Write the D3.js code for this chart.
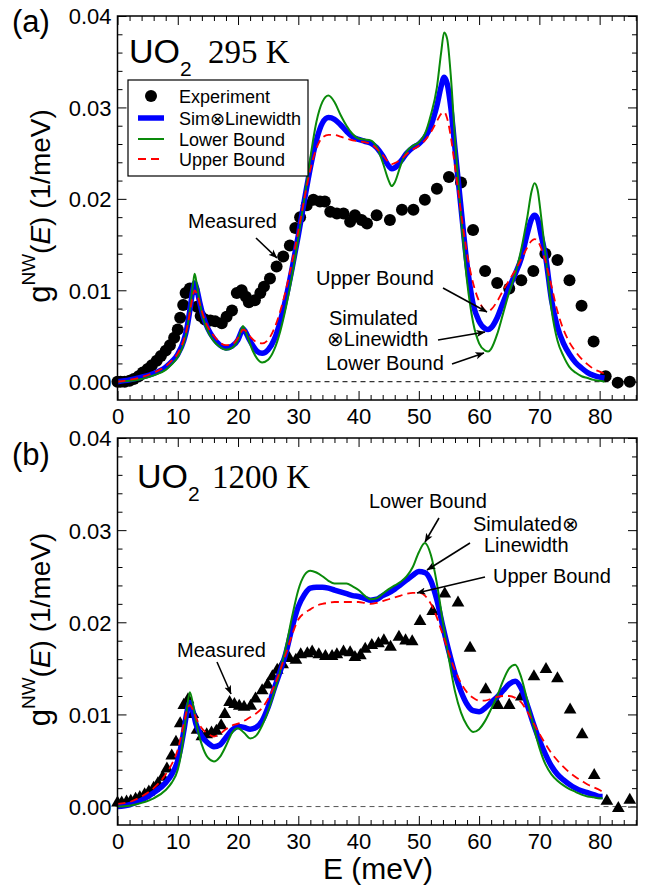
<!DOCTYPE html>
<html><head><meta charset="utf-8">
<script src="https://cdn.jsdelivr.net/npm/d3@7"></script>
<style>
html,body{margin:0;padding:0;background:#fff;}
svg{display:block;}
text{font-family:"Liberation Sans",Arial,Helvetica,"DejaVu Sans",sans-serif;fill:#000;}
</style></head>
<body>
<svg id="chart" width="657" height="888"></svg>
<script>
// ---------------- DATA ----------------
const energyTicks = [0,10,20,30,40,50,60,70,80];
const gTicks = [0.00,0.01,0.02,0.03,0.04];
const legendLabels = ["Experiment","Sim\u2297Linewidth","Lower Bound","Upper Bound"];

// (a) UO2 295 K — measured points
const topExpE = [0,0.5,1.2,2,2.7,3.5,4.2,5,5.7,6.5,7.2,8,8.7,9.4,10,10.4,10.9,11.3,12,12.6,13.2,13.8,14.5,15.4,16.2,17.3,18.1,19.0,19.8,20.6,21.3,21.8,22.8,23.7,24.3,25.3,26.4,27.5,28.6,29.5,30.3,31.4,32.5,33.6,34.4,35.3,36.4,37.5,38.6,39.4,40.5,41.4,43.0,45.2,47.2,49.1,51,53,55,57,59,61,63,65,67,69,71,73,75,77,79,81,83,85];
const topExpG = [0.0000,0.0000,0.0000,0.0001,0.0003,0.0006,0.0010,0.0014,0.0018,0.0023,0.0028,0.0034,0.0040,0.0048,0.0057,0.0070,0.0084,0.0097,0.0102,0.0101,0.0082,0.0072,0.0068,0.0067,0.0066,0.0064,0.0071,0.0078,0.0097,0.0100,0.0093,0.0087,0.0089,0.0097,0.0104,0.0113,0.0126,0.0137,0.0149,0.0168,0.0180,0.0193,0.0199,0.0197,0.0197,0.0186,0.0184,0.0184,0.0175,0.0182,0.0177,0.0173,0.0182,0.0177,0.0188,0.0188,0.0199,0.0211,0.0224,0.0218,0.0166,0.0121,0.0108,0.0102,0.0111,0.0121,0.0140,0.0133,0.0111,0.0083,0.0044,0.0006,-0.0001,0.0000];

// (a) simulated curves
const topCurveE = [0,2,4,6,8,9,10,11,11.5,12,12.5,12.8,13.2,13.7,14.2,15,16,17,18,19,20,20.5,20.8,21.2,21.8,22.5,23.2,24,25,26,27,28,29,30,31,32,33,34,35,36,37,38,39,40,41,42,43,44,45,45.5,46,47,48,49,50,51,52,53,53.7,54.2,54.7,55.3,56,57,58,59,60,61,61.5,62,63,64,65,66,67,68,68.7,69.2,69.7,70.3,71,72,73,74,75,76,77,78,79,80,80.8];
const topSim = [0.0000,0.0002,0.0005,0.0009,0.0016,0.0022,0.0030,0.0045,0.0058,0.0078,0.0100,0.0108,0.0100,0.0085,0.0072,0.0058,0.0047,0.0040,0.0037,0.0039,0.0046,0.0054,0.0058,0.0055,0.0047,0.0039,0.0033,0.0031,0.0035,0.0046,0.0066,0.0093,0.0125,0.0160,0.0198,0.0234,0.0264,0.0283,0.0289,0.0287,0.0281,0.0274,0.0268,0.0265,0.0263,0.0261,0.0256,0.0247,0.0236,0.0233,0.0234,0.0241,0.0250,0.0256,0.0260,0.0267,0.0280,0.0302,0.0323,0.0333,0.0326,0.0300,0.0255,0.0190,0.0128,0.0085,0.0066,0.0058,0.0057,0.0059,0.0070,0.0087,0.0103,0.0118,0.0135,0.0162,0.0178,0.0182,0.0178,0.0160,0.0138,0.0090,0.0060,0.0042,0.0030,0.0021,0.0015,0.0010,0.0007,0.0005,0.0004];
const topLower = [0.0000,0.0001,0.0003,0.0007,0.0013,0.0019,0.0027,0.0042,0.0056,0.0078,0.0105,0.0118,0.0105,0.0085,0.0070,0.0055,0.0044,0.0038,0.0035,0.0037,0.0046,0.0056,0.0061,0.0056,0.0045,0.0033,0.0025,0.0021,0.0024,0.0035,0.0055,0.0083,0.0117,0.0157,0.0200,0.0245,0.0284,0.0306,0.0313,0.0306,0.0292,0.0280,0.0271,0.0266,0.0265,0.0264,0.0257,0.0240,0.0220,0.0214,0.0218,0.0237,0.0252,0.0258,0.0262,0.0271,0.0292,0.0322,0.0360,0.0382,0.0375,0.0335,0.0265,0.0180,0.0110,0.0065,0.0042,0.0034,0.0033,0.0036,0.0052,0.0075,0.0098,0.0118,0.0145,0.0180,0.0208,0.0217,0.0210,0.0180,0.0140,0.0080,0.0045,0.0028,0.0016,0.0010,0.0006,0.0004,0.0002,0.0001,0.0000];
const topUpper = [0.0000,0.0002,0.0005,0.0010,0.0017,0.0023,0.0031,0.0046,0.0058,0.0075,0.0094,0.0100,0.0095,0.0084,0.0073,0.0060,0.0050,0.0043,0.0040,0.0041,0.0048,0.0054,0.0057,0.0056,0.0051,0.0046,0.0043,0.0042,0.0046,0.0058,0.0077,0.0102,0.0132,0.0165,0.0200,0.0232,0.0255,0.0267,0.0270,0.0270,0.0268,0.0266,0.0264,0.0263,0.0262,0.0260,0.0255,0.0248,0.0240,0.0238,0.0239,0.0243,0.0249,0.0254,0.0258,0.0264,0.0273,0.0285,0.0293,0.0295,0.0288,0.0268,0.0235,0.0185,0.0140,0.0108,0.0088,0.0078,0.0077,0.0079,0.0088,0.0100,0.0111,0.0122,0.0134,0.0147,0.0154,0.0156,0.0154,0.0146,0.0132,0.0105,0.0077,0.0057,0.0043,0.0033,0.0025,0.0019,0.0014,0.0011,0.0009];

// (b) UO2 1200 K — measured points
const botExpE = [0,0.7,1.5,2.2,3,3.7,4.5,5.2,6,6.7,7.5,8.2,9,9.7,10.4,11,11.7,12.5,13.2,14,14.8,15.6,16.4,17.2,17.8,18.6,19.4,20.2,21.0,22.1,22.9,24.0,24.9,25.7,26.5,27.4,28.5,29.6,30.4,31.5,32.3,33.4,34.5,35.6,36.4,37.5,38.6,39.4,40.3,41.1,42.2,43.3,44.2,45.3,46.7,47.8,48.9,50.2,52.3,54.3,56.5,58.5,61.1,63.1,65.0,67.0,69.1,71.1,73.0,75.1,77.1,79.1,81.2,83.1,85.0];
const botExpG = [0.0004,0.0004,0.0005,0.0006,0.0008,0.0010,0.0013,0.0016,0.0020,0.0025,0.0032,0.0041,0.0055,0.0070,0.0090,0.0110,0.0116,0.0100,0.0083,0.0076,0.0078,0.0080,0.0082,0.0088,0.0100,0.0113,0.0111,0.0109,0.0108,0.0109,0.0117,0.0126,0.0132,0.0141,0.0148,0.0154,0.0161,0.0159,0.0165,0.0166,0.0168,0.0165,0.0163,0.0163,0.0165,0.0168,0.0167,0.0162,0.0164,0.0171,0.0175,0.0177,0.0180,0.0173,0.0184,0.0180,0.0179,0.0201,0.0212,0.0231,0.0221,0.0172,0.0127,0.0110,0.0110,0.0119,0.0141,0.0149,0.0139,0.0105,0.0078,0.0034,0.0006,-0.0002,0.0007];

// (b) simulated curves
const botCurveE = [0,2,4,6,8,9,10,10.5,11,11.5,12,12.5,13,13.5,14,15,16,17,18,19,20,21,22,23,24,25,26,27,28,29,30,31,32,33,34,35,36,37,38,39,40,41,42,43,44,45,46,47,48,49,50,51,52,53,54,55,56,57,58,59,60,61,62,63,64,65,66,67,68,69,70,71,72,73,74,75,76,77,78,79,80,80.5];
const botSim = [0.0000,0.0002,0.0007,0.0015,0.0026,0.0035,0.0050,0.0064,0.0082,0.0102,0.0113,0.0104,0.0090,0.0082,0.0076,0.0069,0.0065,0.0067,0.0075,0.0083,0.0087,0.0086,0.0084,0.0086,0.0093,0.0108,0.0128,0.0147,0.0168,0.0195,0.0217,0.0230,0.0237,0.0238,0.0238,0.0237,0.0235,0.0233,0.0231,0.0229,0.0228,0.0226,0.0224,0.0225,0.0229,0.0232,0.0236,0.0241,0.0246,0.0251,0.0255,0.0254,0.0245,0.0224,0.0195,0.0168,0.0144,0.0125,0.0111,0.0104,0.0103,0.0107,0.0113,0.0119,0.0126,0.0133,0.0136,0.0128,0.0110,0.0090,0.0072,0.0057,0.0044,0.0035,0.0029,0.0024,0.0020,0.0017,0.0015,0.0013,0.0011,0.0011];
const botLower = [0.0000,0.0001,0.0004,0.0009,0.0018,0.0026,0.0040,0.0055,0.0078,0.0105,0.0124,0.0112,0.0093,0.0078,0.0067,0.0053,0.0049,0.0054,0.0066,0.0080,0.0085,0.0080,0.0074,0.0077,0.0088,0.0104,0.0124,0.0147,0.0175,0.0207,0.0235,0.0251,0.0256,0.0254,0.0250,0.0245,0.0242,0.0242,0.0242,0.0239,0.0235,0.0229,0.0225,0.0226,0.0231,0.0236,0.0240,0.0244,0.0250,0.0260,0.0276,0.0286,0.0273,0.0242,0.0200,0.0160,0.0125,0.0102,0.0088,0.0081,0.0084,0.0093,0.0106,0.0120,0.0137,0.0150,0.0154,0.0140,0.0115,0.0088,0.0064,0.0046,0.0035,0.0028,0.0023,0.0019,0.0016,0.0013,0.0011,0.0010,0.0009,0.0009];
const botUpper = [0.0003,0.0005,0.0011,0.0020,0.0035,0.0046,0.0062,0.0075,0.0090,0.0104,0.0110,0.0105,0.0097,0.0090,0.0085,0.0079,0.0076,0.0079,0.0084,0.0088,0.0090,0.0093,0.0097,0.0101,0.0107,0.0117,0.0131,0.0148,0.0167,0.0187,0.0203,0.0210,0.0214,0.0218,0.0220,0.0221,0.0222,0.0222,0.0222,0.0222,0.0222,0.0221,0.0220,0.0221,0.0223,0.0225,0.0227,0.0229,0.0231,0.0232,0.0232,0.0229,0.0220,0.0205,0.0186,0.0166,0.0148,0.0134,0.0124,0.0118,0.0115,0.0115,0.0117,0.0119,0.0120,0.0120,0.0118,0.0113,0.0103,0.0091,0.0079,0.0068,0.0058,0.0050,0.0043,0.0037,0.0032,0.0028,0.0024,0.0021,0.0018,0.0016];

// ---------------- DRAW ----------------
const svg = d3.select("#chart");
const FONT = '"Liberation Sans",Arial,Helvetica,"DejaVu Sans",sans-serif';
const SERIF = '"Liberation Serif","Times New Roman",Times,serif';
const BLUE = "#0000ff", GREEN = "#0a8a0a", RED = "#ff0000";

// arrow marker
svg.append("defs").append("marker")
  .attr("id","arrow").attr("viewBox","0 0 10 10").attr("refX",9.5).attr("refY",5)
  .attr("markerWidth",9).attr("markerHeight",9).attr("markerUnits","userSpaceOnUse")
  .attr("orient","auto")
  .append("path").attr("d","M0,1 L10,5 L0,9 L2.5,5 Z").attr("fill","#000");

function drawPanel(cfg){
  const x = d3.scaleLinear().domain([0,86.2]).range([117.5,637]);
  const y = d3.scaleLinear().domain([-0.002,0.04]).range([cfg.bottom,cfg.top]);
  const g = svg.append("g");
  const L = 117.5, R = 637;

  const xMinor = d3.range(0,87,2).filter(v=>v%10!==0);
  const yMinor = d3.range(0,0.0401,0.002).filter(v=>Math.abs(v*100-Math.round(v*100))>1e-6);
  function axisSet(axis, transform, values, size, labels){
    const a = axis.tickValues(values).tickSize(-size).tickSizeOuter(0);
    if(!labels) a.tickFormat("");
    const ag = g.append("g").attr("transform",transform).call(a);
    ag.select(".domain").remove();
    ag.selectAll("line").attr("stroke","#000").attr("stroke-width",1);
    return ag;
  }
  const bx = axisSet(d3.axisBottom(x).tickPadding(8), `translate(0,${cfg.bottom})`, energyTicks, 9, true);
  bx.selectAll("text").attr("font-size",22).attr("font-family",FONT).attr("fill","#000");
  axisSet(d3.axisBottom(x), `translate(0,${cfg.bottom})`, xMinor, 5, false);
  axisSet(d3.axisTop(x), `translate(0,${cfg.top})`, energyTicks, 9, false);
  axisSet(d3.axisTop(x), `translate(0,${cfg.top})`, xMinor, 5, false);
  const ly = axisSet(d3.axisLeft(y).tickPadding(6).tickFormat(d3.format(".2f")), `translate(${L},0)`, gTicks, 9, true);
  ly.selectAll("text").attr("font-size",22).attr("font-family",FONT).attr("fill","#000").attr("dy","0.36em");
  axisSet(d3.axisLeft(y), `translate(${L},0)`, yMinor, 5, false);
  axisSet(d3.axisRight(y), `translate(${R},0)`, gTicks, 9, false);
  axisSet(d3.axisRight(y), `translate(${R},0)`, yMinor, 5, false);

  g.append("line").attr("x1",L).attr("x2",R).attr("y1",y(0)).attr("y2",y(0))
    .attr("stroke",cfg.zeroColor).attr("stroke-width",1).attr("stroke-dasharray","5,4");

  const pts = cfg.expE.map((e,i)=>[e,cfg.expG[i]]);
  if(cfg.marker==="circle"){
    g.append("g").selectAll("circle").data(pts).join("circle")
      .attr("cx",d=>x(d[0])).attr("cy",d=>y(d[1])).attr("r",6).attr("fill","#000");
  } else {
    const tri = d3.symbol().type(d3.symbolTriangle).size(70);
    g.append("g").selectAll("path").data(pts).join("path")
      .attr("d",tri).attr("transform",d=>`translate(${x(d[0])},${y(d[1])})`).attr("fill","#000");
  }

  const line = d3.line().x(d=>x(d[0])).y(d=>y(d[1])).curve(d3.curveMonotoneX);
  const mk = arr => cfg.curveE.map((e,i)=>[e,arr[i]]);
  g.append("path").attr("d",line(mk(cfg.sim))).attr("fill","none").attr("stroke",BLUE).attr("stroke-width",5.5).attr("stroke-linejoin","round");
  g.append("path").attr("d",line(mk(cfg.lower))).attr("fill","none").attr("stroke",GREEN).attr("stroke-width",2);
  g.append("path").attr("d",line(mk(cfg.upper))).attr("fill","none").attr("stroke",RED).attr("stroke-width",1.8).attr("stroke-dasharray","8,5");

  g.append("rect").attr("x",L).attr("y",cfg.top).attr("width",R-L).attr("height",cfg.bottom-cfg.top)
    .attr("fill","none").attr("stroke","#000").attr("stroke-width",1.5);

  g.append("text").attr("x",12).attr("y",cfg.letterY).attr("font-size",31).text(cfg.letter);

  const t = g.append("text").attr("x",cfg.uoX).attr("y",cfg.uoY);
  t.append("tspan").attr("font-size",34).attr("font-family",FONT).text("UO");
  t.append("tspan").attr("font-size",21).attr("font-family",FONT).attr("dy",13).text("2");
  t.append("tspan").attr("font-size",33).attr("font-family",SERIF).attr("dy",-13).attr("x",cfg.tempX).text(cfg.temp);

  const cy = (cfg.top+cfg.bottom)/2 - 2;
  const yl = g.append("text").attr("transform",`translate(50,${cy}) rotate(-90)`).attr("text-anchor","middle");
  yl.append("tspan").attr("font-size",31).text("g");
  yl.append("tspan").attr("font-size",19).attr("dy",-15).text("NW");
  yl.append("tspan").attr("font-size",28).attr("dy",15).text("(");
  yl.append("tspan").attr("font-size",28).attr("font-style","italic").text("E");
  yl.append("tspan").attr("font-size",28).text(") (1/meV)");

  cfg.notes.forEach(n=>{
    n.lines.forEach((s,i)=>{
      g.append("text").attr("x",n.x[i]).attr("y",n.y[i]).attr("font-size",20).text(s);
    });
  });
  cfg.arrows.forEach(a=>{
    g.append("line").attr("x1",a[0]).attr("y1",a[1]).attr("x2",a[2]).attr("y2",a[3])
      .attr("stroke","#000").attr("stroke-width",1.6).attr("marker-end","url(#arrow)");
  });
  return {x,y,g};
}

const panelA = drawPanel({
  top:16, bottom:400, letter:"(a)", letterY:32, uoX:129, uoY:63, tempX:208, temp:"295 K",
  expE:topExpE, expG:topExpG, marker:"circle", zeroColor:"#000",
  curveE:topCurveE, sim:topSim, lower:topLower, upper:topUpper,
  notes:[
    {lines:["Measured"], x:[188], y:[228]},
    {lines:["Upper Bound"], x:[316], y:[285]},
    {lines:["Simulated","\u2297Linewidth"], x:[329,327], y:[325,346]},
    {lines:["Lower Bound"], x:[326], y:[370]}
  ],
  arrows:[[256,238,277,258],[443,288,487,312],[438,340,485,332],[452,364,484,353]]
});

const panelB = drawPanel({
  top:438, bottom:825, letter:"(b)", letterY:465, uoX:137, uoY:488, tempX:212, temp:"1200 K",
  expE:botExpE, expG:botExpG, marker:"triangle", zeroColor:"#555",
  curveE:botCurveE, sim:botSim, lower:botLower, upper:botUpper,
  notes:[
    {lines:["Measured"], x:[177], y:[657]},
    {lines:["Lower Bound"], x:[369], y:[508]},
    {lines:["Simulated\u2297","Linewidth"], x:[473,484], y:[531,552]},
    {lines:["Upper Bound"], x:[493], y:[583]}
  ],
  arrows:[[217,662,231,694],[439,518,425,542],[470,543,427,570],[485,577,417,593]]
});

svg.append("text").attr("x",378).attr("y",879).attr("text-anchor","middle").attr("font-size",30).text("E (meV)");

const lg = svg.append("g");
lg.append("rect").attr("x",128).attr("y",80).attr("width",180).attr("height",96)
  .attr("fill","#fff").attr("stroke","#000").attr("stroke-width",1.2);
const legY = [96,118,139,159];
lg.append("circle").attr("cx",151).attr("cy",legY[0]).attr("r",6).attr("fill","#000");
lg.append("line").attr("x1",138).attr("x2",164).attr("y1",legY[1]).attr("y2",legY[1]).attr("stroke",BLUE).attr("stroke-width",5.5);
lg.append("line").attr("x1",138).attr("x2",164).attr("y1",legY[2]).attr("y2",legY[2]).attr("stroke",GREEN).attr("stroke-width",2);
lg.append("line").attr("x1",138).attr("x2",164).attr("y1",legY[3]).attr("y2",legY[3]).attr("stroke",RED).attr("stroke-width",1.8).attr("stroke-dasharray","8,5");
legendLabels.forEach((s,i)=>{
  lg.append("text").attr("x",179).attr("y",legY[i]+6.5).attr("font-size",18).text(s);
});
</script>
</body></html>
